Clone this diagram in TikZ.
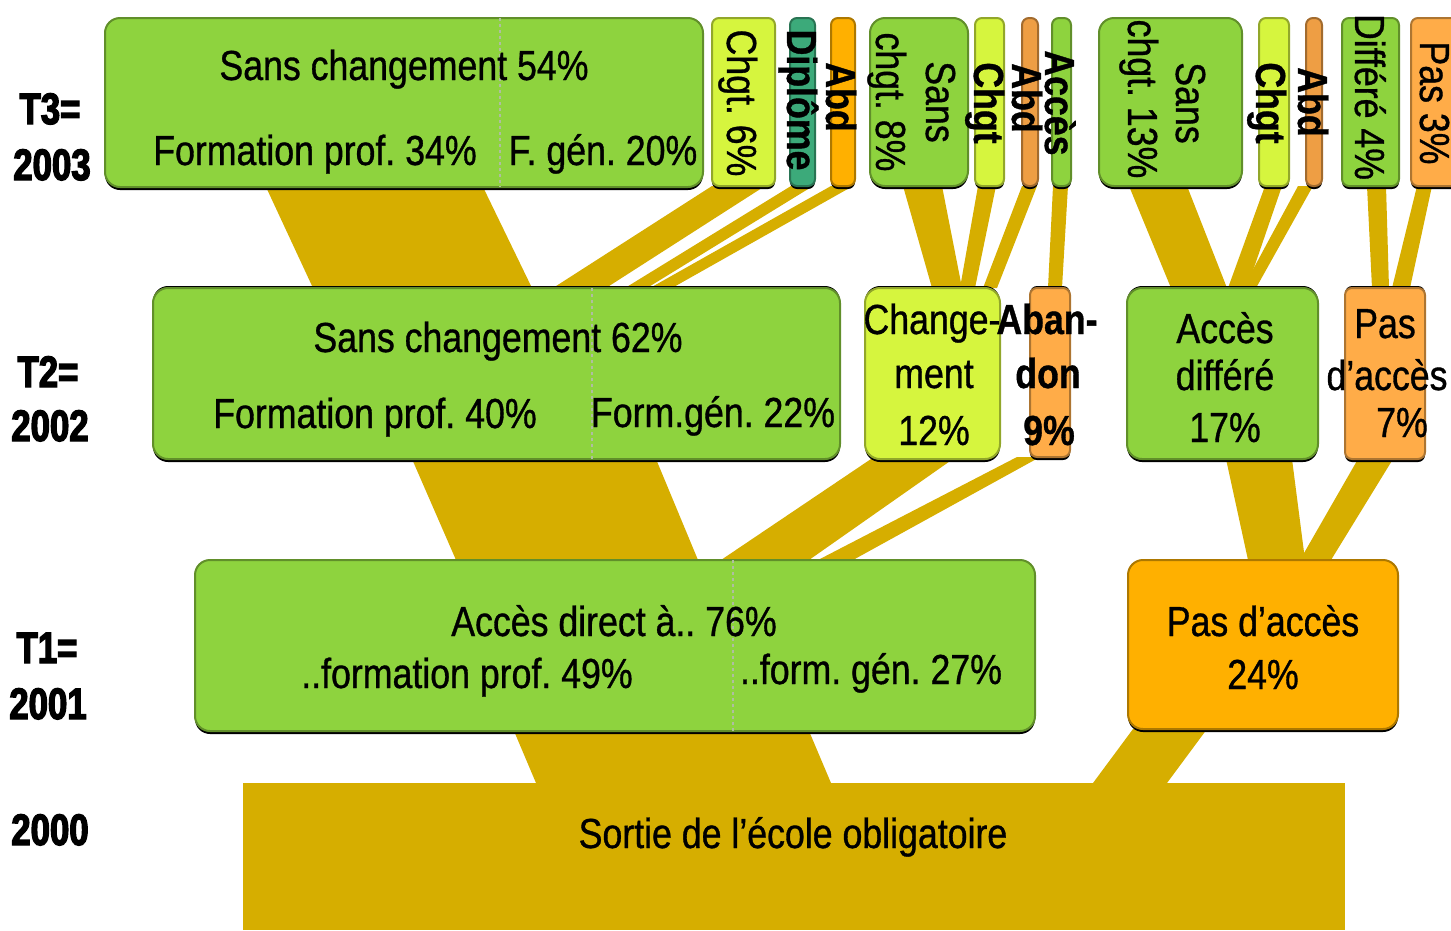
\documentclass[tikz,border=0pt]{standalone}
\usepackage{fontspec}
\setmainfont[FakeStretch=0.85,FakeBold=0.8]{Liberation Sans}
\newfontfamily\yearfont[FakeStretch=0.79,BoldFeatures={FakeBold=3}]{Liberation Sans}
\usetikzlibrary{fit,backgrounds}
\definecolor{cgreen}{RGB}{142,211,62}
\definecolor{cyell}{RGB}{214,245,62}
\definecolor{corange}{RGB}{255,176,0}
\definecolor{clorange}{RGB}{255,172,72}
\definecolor{cbrown}{RGB}{238,158,68}
\definecolor{cteal}{RGB}{60,170,122}
\definecolor{cgold}{RGB}{214,174,0}
\definecolor{cdiv}{RGB}{175,190,160}
\frenchspacing
\begin{document}
\frenchspacing
\begin{tikzpicture}[x=1pt,y=-1pt,
  box/.style={fill=#1, draw=#1!68!black, line width=2pt, rounded corners=15pt,
    inner sep=0pt, outer sep=0pt,
    preaction={fill=black, transform canvas={yshift=-3pt}}},
  nbox/.style={box=#1, rounded corners=7pt},
  topline/.style={preaction={fill=black, transform canvas={yshift=2pt}}},
  flow/.style={fill=cgold, draw=none},
  divider/.style={draw=cdiv, line width=1.5pt, dash pattern=on 3pt off 3pt},
  txt/.style={font=\fontsize{42}{50}\selectfont\frenchspacing, anchor=base, inner sep=0pt, text=black},
  btxt/.style={txt, font=\fontsize{42}{50}\selectfont\frenchspacing\bfseries},
  rtxt/.style={txt, rotate=-90},
  rbtxt/.style={btxt, rotate=-90},
  year/.style={font=\fontsize{44}{50}\selectfont\yearfont\bfseries, anchor=base, inner sep=0pt},
]
\useasboundingbox (0,0) rectangle (1451,930);
\clip (0,0) rectangle (1451,930);

% ---- bottom block
\node[fill=cgold, inner sep=0pt, outer sep=0pt, fit={(243,783) (1345,930)}] (s0) {};

% ---- T1 row
\node[box=cgreen, fit={(195,560) (1035,731)}] (a1) {};
\node[box=corange, fit={(1128,560) (1398,729)}] (p1) {};

% ---- T2 row
\node[topline, box=cgreen, fit={(153,288) (840,459)}] (a2) {};
\node[topline, box=cyell, fit={(865,288) (1000,459)}] (ch2) {};
\node[topline, nbox=clorange, fit={(1030,288) (1070,457)}] (ab2) {};
\node[topline, box=cgreen, fit={(1127,288) (1318,459)}] (ad2) {};
\node[topline, nbox=clorange, fit={(1345,288) (1425,459)}] (p2) {};

% ---- T3 row
\node[box=cgreen, fit={(105,18) (703,187)}] (a3) {};
\node[nbox=cyell, fit={(712,18) (775,186)}] (c3a) {};
\node[nbox=cteal, fit={(790,18) (815,186)}] (d3) {};
\node[nbox=corange, fit={(831,18) (855,186)}] (ab3a) {};
\node[box=cgreen, fit={(870,18) (968,186)}] (s3b) {};
\node[nbox=cyell, fit={(975,18) (1004,186)}] (c3b) {};
\node[nbox=cbrown, fit={(1022,18) (1038,186)}] (ab3b) {};
\node[nbox=cgreen, fit={(1052,18) (1071,186)}] (ac3) {};
\node[box=cgreen, fit={(1099,18) (1242,186)}] (s3c) {};
\node[nbox=cyell, fit={(1259,18) (1289,186)}] (c3c) {};
\node[nbox=cbrown, fit={(1306,18) (1322,186)}] (ab3c) {};
\node[nbox=cgreen, fit={(1342,18) (1399,186)}] (df3) {};
\node[nbox=clorange, fit={(1411,18) (1475,186)}] (p3) {};

% ---- flows (behind)
\begin{scope}[on background layer]
  % T3 -> T2
  \fill[flow] (266,0 |- a3.south) -- (483,0 |- a3.south) -- (532,0 |- a2.north) -- (313,0 |- a2.north) -- cycle;
  \fill[flow] (712,0 |- c3a.south) -- (765,0 |- c3a.south) -- (606,0 |- a2.north) -- (553,0 |- a2.north) -- cycle;
  \fill[flow] (791,0 |- d3.south) -- (813,0 |- d3.south) -- (647,0 |- a2.north) -- (625,0 |- a2.north) -- cycle;
  \fill[flow] (831,0 |- ab3a.south) -- (853,0 |- ab3a.south) -- (672,0 |- a2.north) -- (650,0 |- a2.north) -- cycle;
  \fill[flow] (903,0 |- s3b.south) -- (942,0 |- s3b.south) -- (962,0 |- ch2.north) -- (932,0 |- ch2.north) -- cycle;
  \fill[flow] (978,0 |- c3b.south) -- (996,0 |- c3b.south) -- (975,0 |- ch2.north) -- (960,0 |- ch2.north) -- cycle;
  \fill[flow] (1022,0 |- ab3b.south) -- (1037,0 |- ab3b.south) -- (997,0 |- ch2.north) -- (983,0 |- ch2.north) -- cycle;
  \fill[flow] (1053,0 |- ac3.south) -- (1068,0 |- ac3.south) -- (1062,0 |- ab2.north) -- (1048,0 |- ab2.north) -- cycle;
  \fill[flow] (1129,0 |- s3c.south) -- (1187,0 |- s3c.south) -- (1227,0 |- ad2.north) -- (1171,0 |- ad2.north) -- cycle;
  \fill[flow] (1265,0 |- c3c.south) -- (1282,0 |- c3c.south) -- (1247,0 |- ad2.north) -- (1228,0 |- ad2.north) -- cycle;
  \fill[flow] (1298,0 |- ab3c.south) -- (1313,0 |- ab3c.south) -- (1256,0 |- ad2.north) -- (1243,0 |- ad2.north) -- cycle;
  \fill[flow] (1367,0 |- df3.south) -- (1386,0 |- df3.south) -- (1389,0 |- p2.north) -- (1372,0 |- p2.north) -- cycle;
  \fill[flow] (1417,0 |- p3.south) -- (1432,0 |- p3.south) -- (1410,0 |- p2.north) -- (1392,0 |- p2.north) -- cycle;
  % T2 -> T1
  \fill[flow] (412,0 |- a2.south) -- (656,0 |- a2.south) -- (698,0 |- a1.north) -- (456,0 |- a1.north) -- cycle;
  \fill[flow] (871,0 |- ch2.south) -- (953,0 |- ch2.south) -- (809,0 |- a1.north) -- (721,0 |- a1.north) -- cycle;
  \fill[flow] (1017,0 |- ab2.south) -- (1040,0 |- ab2.south) -- (853,0 |- a1.north) -- (818,0 |- a1.north) -- cycle;
  \fill[flow] (1226,0 |- ad2.south) -- (1292,0 |- ad2.south) -- (1305,0 |- p1.north) -- (1248,0 |- p1.north) -- cycle;
  \fill[flow] (1358,0 |- p2.south) -- (1393,0 |- p2.south) -- (1331,0 |- p1.north) -- (1300,0 |- p1.north) -- cycle;
  % T1 -> 2000
  \fill[flow] (514,0 |- a1.south) -- (809,0 |- a1.south) -- (831,0 |- s0.north) -- (536,0 |- s0.north) -- cycle;
  \fill[flow] (1133,0 |- p1.south) -- (1207,0 |- p1.south) -- (1167,0 |- s0.north) -- (1093,0 |- s0.north) -- cycle;
\end{scope}

% ---- dividers
\draw[divider] (500,0 |- a3.north) -- (500,0 |- a3.south);
\draw[divider] (592,0 |- a2.north) -- (592,0 |- a2.south);
\draw[divider] (733,0 |- a1.north) -- (733,0 |- a1.south);

% ---- year labels
\node[year] (y3a) at (50,124) {T3=};
\node[year] (y3b) at (52,180) {2003};
\node[year] (y2a) at (48,387) {T2=};
\node[year] (y2b) at (50,441) {2002};
\node[year] (y1a) at (47,663) {T1=};
\node[year] (y1b) at (48,719) {2001};
\node[year] (y0) at (50,845) {2000};

% ---- texts T3
\node[txt] (ta3) at (404,80) {Sans changement 54\%};
\node[txt] (ta3l) at (315,165) {Formation prof. 34\%};
\node[txt] (ta3r) at (603,165) {F. gén. 20\%};
\node[rtxt] (tc3a) at (727,103) {Chgt. 6\%};
\node[rbtxt] (td3) at (787,100) {Diplôme};
\node[rbtxt] (tab3a) at (826,97) {Abd};
\node[rtxt] (ts3b1) at (926,102) {Sans};
\node[rtxt] (ts3b2) at (876,102) {chgt. 8\%};
\node[rbtxt] (tc3b) at (974,103) {Chgt};
\node[rbtxt] (tab3b) at (1012,98) {Abd};
\node[rbtxt] (tac3) at (1045,103) {Accès};
\node[rtxt] (ts3c1) at (1176,103) {Sans};
\node[rtxt] (ts3c2) at (1128,99) {chgt. 13\%};
\node[rbtxt] (tc3c) at (1256,103) {Chgt};
\node[rbtxt] (tab3c) at (1298,102) {Abd};
\node[rtxt] (tdf3) at (1355,97) {Différé 4\%};
\node[rtxt] (tp3) at (1420,103) {Pas 3\%};

% ---- texts T2
\node[txt] (ta2) at (498,352) {Sans changement 62\%};
\node[txt] (ta2l) at (375,428) {Formation prof. 40\%};
\node[txt] (ta2r) at (713,427) {Form.gén. 22\%};
\node[txt] (tch2a) at (932,334) {Change-};
\node[txt] (tch2b) at (934,388) {ment};
\node[txt] (tch2c) at (934,445) {12\%};
\node[btxt] (tab2a) at (1047,334) {Aban-};
\node[btxt] (tab2b) at (1048,388) {don};
\node[btxt] (tab2c) at (1049,445) {9\%};
\node[txt] (tad2a) at (1225,343) {Accès};
\node[txt] (tad2b) at (1225,390) {différé};
\node[txt] (tad2c) at (1225,442) {17\%};
\node[txt] (tp2a) at (1385,338) {Pas};
\node[txt] (tp2b) at (1387,390) {d'accès};
\node[txt] (tp2c) at (1402,437) {7\%};

% ---- texts T1
\node[txt] (ta1) at (614,636) {Accès direct à.. 76\%};
\node[txt] (ta1l) at (467,688) {..formation prof. 49\%};
\node[txt] (ta1r) at (871,684) {..form. gén. 27\%};
\node[txt] (tp1a) at (1263,636) {Pas d'accès};
\node[txt] (tp1b) at (1263,689) {24\%};

% ---- bottom
\node[txt] (ts0) at (793,848) {Sortie de l'école obligatoire};
\end{tikzpicture}
\end{document}
